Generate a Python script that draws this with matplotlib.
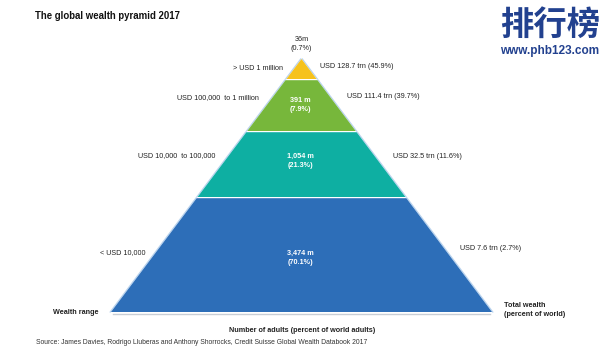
import matplotlib.pyplot as plt
from matplotlib.patches import Polygon

plt.rcParams['font.family'] = ['Liberation Sans', 'DejaVu Sans']

# data, top layer first
wealth_ranges = ["> USD 1 million", "USD 100,000  to 1 million",
                 "USD 10,000  to 100,000", "< USD 10,000"]
adults_m = ["36m", "391 m", "1,054 m", "3,474 m"]
adults_pct = [0.7, 7.9, 21.3, 70.1]
wealth_trn = [128.7, 111.4, 32.5, 7.6]
wealth_pct = [45.9, 39.7, 11.6, 2.7]
colors = ["#F6C21C", "#77B73B", "#0EAFA2", "#2D6EB8"]

# pyramid geometry in pixels (apex, base and layer breaks)
W, H = 616, 353
apex_x, apex_y = 301.5, 59
base_y, half_base = 312, 190.5
breaks = [apex_y, 79, 131, 197, base_y]
slope = half_base / (base_y - apex_y)

fig = plt.figure(figsize=(W / 100, H / 100), dpi=100)
ax = fig.add_axes([0, 0, 1, 1])
ax.set_xlim(0, W)
ax.set_ylim(H, 0)
ax.axis('off')

def hw(y):
    return (y - apex_y) * slope

FS = 5.2
for i in range(4):
    y0, y1 = breaks[i], breaks[i + 1]
    if i > 0:
        y0 += 1.2
    pts = [(apex_x - hw(y0), y0), (apex_x + hw(y0), y0),
           (apex_x + hw(y1), y1), (apex_x - hw(y1), y1)]
    ax.add_patch(Polygon(pts, closed=True, fc=colors[i], ec='none', zorder=2))
    # light rim on the sloped edges
    ax.plot([apex_x - hw(y0) - 0.8, apex_x - hw(y1) - 0.8], [y0, y1],
            color="#B9D3EE", lw=0.9, zorder=1)
    ax.plot([apex_x + hw(y0) + 0.8, apex_x + hw(y1) + 0.8], [y0, y1],
            color="#B9D3EE", lw=0.9, zorder=1)

ax.plot([apex_x - half_base + 2, apex_x + half_base - 2], [base_y + 1.5, base_y + 1.5],
        color="#C9CED6", lw=1.0, zorder=1)

# labels inside / above the layers
inner_y = [None, 101, 157, 254]
for i in range(4):
    txt = f"{adults_m[i]}\n({adults_pct[i]}%)"
    if i == 0:
        ax.text(apex_x, 44, txt, ha='center', va='center', fontsize=FS,
                color='#222222', linespacing=1.3)
    else:
        ax.text(apex_x - 1, inner_y[i] + 4, txt, ha='center', va='center', fontsize=FS,
                color='white', fontweight='bold', linespacing=1.4)

left_pos = [(283, 68), (259, 98), (215, 156), (146, 253)]
right_pos = [(320, 67), (347, 97), (393, 156), (460, 249)]
for i in range(4):
    ax.text(left_pos[i][0], left_pos[i][1], wealth_ranges[i], ha='right', va='center',
            fontsize=FS, color='#222222')
    ax.text(right_pos[i][0], right_pos[i][1], f"USD {wealth_trn[i]} trn ({wealth_pct[i]}%)",
            ha='left', va='center', fontsize=FS, color='#222222')

ax.text(35, 16, "The global wealth pyramid 2017", ha='left', va='center',
        fontsize=6.9, fontweight='bold', color='#111111')
ax.text(53, 312, "Wealth range", ha='left', va='center', fontsize=FS,
        fontweight='bold', color='#222222')
ax.text(504, 310, "Total wealth\n(percent of world)", ha='left', va='center',
        fontsize=FS, fontweight='bold', color='#222222', linespacing=1.3)
ax.text(302, 331, "Number of adults (percent of world adults)", ha='center', va='center',
        fontsize=FS, fontweight='bold', color='#222222')
ax.text(36, 343, "Source: James Davies, Rodrigo Lluberas and Anthony Shorrocks, "
        "Credit Suisse Global Wealth Databook 2017", ha='left', va='center',
        fontsize=FS - 0.3, color='#333333')

# site watermark
ax.text(550, 25, "排行榜", ha='center', va='center', fontsize=24, fontweight='bold',
        color='#22418F', family=['Noto Sans CJK SC', 'DejaVu Sans'])
ax.text(550, 51, "www.phb123.com", ha='center', va='center', fontsize=8.5,
        fontweight='bold', color='#22418F')

fig.savefig("out.png", dpi=100)
